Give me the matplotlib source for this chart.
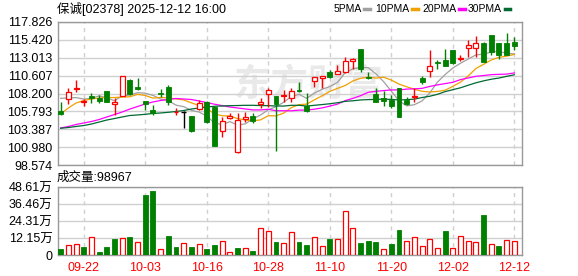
import numpy as np
import matplotlib
matplotlib.use("Agg")
import matplotlib.pyplot as plt
from matplotlib.lines import Line2D

plt.rcParams["font.family"] = ["Liberation Sans", "Noto Sans CJK SC"]

# trading days shown (HK), one per candle
dates = ["09-17", "09-18", "09-19", "09-22", "09-23", "09-24", "09-25", "09-26", "09-29", "09-30",
         "10-02", "10-03", "10-06", "10-08", "10-09", "10-10", "10-13", "10-14", "10-15", "10-16",
         "10-17", "10-20", "10-21", "10-22", "10-23", "10-24", "10-27", "10-28", "10-30", "10-31",
         "11-03", "11-04", "11-05", "11-06", "11-07", "11-10", "11-11", "11-12", "11-13", "11-14",
         "11-17", "11-18", "11-19", "11-20", "11-21", "11-24", "11-25", "11-26", "11-27", "11-28",
         "12-01", "12-02", "12-03", "12-04", "12-05", "12-08", "12-09", "12-10", "12-11", "12-12"]

opens = [105.80, 107.50, 108.80, 107.00, 107.90, 107.55, 108.54, 106.75, 107.90, 110.02,
         109.12, 107.19, 105.98, 108.23, 109.12, 105.65, 105.75, 105.17, 106.11, 107.10,
         106.38, 103.19, 104.90, 100.26, 104.83, 105.17, 106.85, 108.07, 107.86, 107.80,
         107.53, 108.63, 106.52, 109.92, 110.35, 111.09, 110.83, 111.09, 112.60, 114.15,
         110.42, 108.13, 107.59, 107.39, 108.94, 107.33, 107.69, 110.25, 111.27, 112.44,
         112.71, 114.06, 112.80, 114.28, 114.28, 115.04, 116.08, 115.00, 115.00, 115.17]
highs = [107.10, 109.00, 110.00, 107.45, 108.23, 108.00, 108.60, 107.63, 110.60, 110.10,
         110.24, 107.25, 106.70, 108.77, 109.34, 106.20, 105.90, 105.20, 107.33, 107.15,
         106.50, 104.99, 105.51, 105.62, 105.75, 105.58, 107.59, 108.94, 107.90, 108.67,
         108.90, 109.75, 108.23, 110.40, 110.56, 111.36, 112.04, 113.07, 112.95, 114.20,
         111.09, 108.90, 108.54, 108.00, 109.00, 107.77, 108.90, 110.49, 114.06, 112.71,
         114.19, 114.10, 113.38, 115.40, 115.90, 115.10, 116.10, 115.00, 116.38, 115.85]
lows = [105.30, 106.85, 108.40, 106.55, 106.96, 106.88, 107.00, 105.31, 107.85, 108.00,
        108.67, 105.98, 105.31, 107.77, 106.65, 105.31, 103.55, 103.00, 105.98, 104.20,
        101.10, 102.30, 104.77, 100.20, 104.36, 104.19, 106.25, 106.32, 100.50, 107.12,
        107.10, 108.44, 105.75, 109.08, 108.94, 110.29, 110.78, 111.00, 111.50, 111.09,
        110.15, 107.05, 106.45, 106.25, 105.00, 106.65, 107.10, 109.48, 110.46, 111.54,
        111.90, 112.20, 112.64, 113.15, 113.15, 112.40, 113.38, 112.78, 113.38, 114.06]
closes = [105.45, 108.40, 109.00, 107.25, 107.55, 107.19, 107.10, 107.02, 110.56, 108.09,
          108.76, 106.75, 105.57, 108.10, 107.00, 105.72, 105.75, 103.09, 106.96, 104.30,
          101.13, 104.50, 105.17, 104.63, 105.10, 104.56, 107.10, 108.67, 106.72, 108.04,
          108.54, 108.50, 105.88, 110.38, 110.49, 110.45, 111.23, 112.51, 112.91, 111.46,
          110.29, 107.10, 107.22, 106.48, 105.08, 106.79, 107.86, 109.79, 111.90, 112.26,
          111.94, 112.27, 112.98, 114.73, 115.04, 112.48, 113.72, 113.38, 113.45, 114.62]

# volume in 万 shares
volumes = [4.27, 6.9, 7.8, 5.7, 12.6, 2.1, 5.7, 11.4, 11.9, 12.8,
           9.0, 42.7, 45.5, 4.0, 13.5, 5.7, 8.5, 5.7, 7.8, 4.3,
           7.1, 9.7, 2.1, 5.0, 5.0, 2.8, 19.0, 17.1, 9.5, 8.5,
           16.1, 9.3, 7.1, 12.6, 6.2, 11.4, 11.1, 31.8, 19.0, 8.5,
           10.0, 9.3, 4.0, 7.8, 17.8, 9.7, 12.6, 6.2, 11.1, 4.7,
           17.1, 4.7, 13.3, 9.7, 9.0, 28.5, 7.6, 6.4, 10.5, 9.8967]

ma5 = [107.55, 107.60, 107.65, 107.45, 107.53, 107.88, 107.62, 107.22, 107.88, 107.99,
       108.31, 108.24, 107.95, 107.45, 107.24, 106.63, 106.43, 105.93, 105.70, 105.16,
       104.25, 104.00, 104.41, 103.95, 104.11, 104.79, 105.31, 106.01, 106.43, 107.02,
       107.81, 108.09, 107.54, 108.27, 108.76, 109.14, 109.69, 111.01, 111.52, 111.71,
       111.68, 110.85, 109.80, 108.51, 107.23, 106.53, 106.69, 107.20, 108.28, 109.72,
       110.75, 111.63, 112.27, 112.84, 113.39, 113.50, 113.79, 113.87, 113.61, 113.53]
ma10 = [105.44, 106.25, 106.92, 107.26, 107.46, 107.59, 107.66, 107.66, 107.72, 107.76,
        108.09, 107.93, 107.58, 107.67, 107.61, 107.47, 107.33, 106.94, 106.58, 106.20,
        105.44, 105.21, 105.17, 104.83, 104.64, 104.52, 104.65, 105.21, 105.19, 105.56,
        106.30, 106.70, 106.77, 107.35, 107.89, 108.48, 108.89, 109.27, 109.89, 110.24,
        110.41, 110.27, 110.40, 110.01, 109.47, 109.11, 108.77, 108.50, 108.40, 108.48,
        108.64, 109.16, 109.73, 110.56, 111.56, 112.13, 112.71, 113.07, 113.22, 113.46]
ma20 = [103.56, 103.76, 104.03, 104.23, 104.43, 104.70, 105.04, 105.37, 105.71, 106.11,
        106.45, 106.79, 107.06, 107.26, 107.39, 107.53, 107.46, 107.39, 107.19, 106.98,
        106.76, 106.57, 106.38, 106.25, 106.12, 105.99, 105.99, 106.08, 105.88, 105.88,
        105.87, 105.96, 105.97, 106.09, 106.26, 106.50, 106.77, 107.24, 107.54, 107.90,
        108.36, 108.49, 108.59, 108.68, 108.68, 108.79, 108.83, 108.89, 109.15, 109.36,
        109.53, 109.71, 110.07, 110.29, 110.51, 110.62, 110.74, 110.78, 110.81, 110.97]
ma30 = [103.52, 103.62, 103.76, 103.89, 104.09, 104.36, 104.63, 104.83, 105.04, 105.24,
        105.31, 105.40, 105.51, 105.58, 105.67, 105.78, 105.91, 106.11, 106.25, 106.38,
        106.48, 106.52, 106.56, 106.58, 106.61, 106.61, 106.58, 106.56, 106.52, 106.51,
        106.61, 106.61, 106.51, 106.61, 106.71, 106.82, 106.96, 107.14, 107.22, 107.33,
        107.38, 107.40, 107.45, 107.40, 107.33, 107.37, 107.44, 107.66, 107.83, 108.09,
        108.45, 108.71, 108.97, 109.31, 109.64, 109.90, 110.12, 110.28, 110.51, 110.72]

price_labels = ["98.574", "100.980", "103.387", "105.793", "108.200",
                "110.607", "113.013", "115.420", "117.826"]
vol_labels = ["0", "12.15万", "24.31万", "36.46万", "48.61万"]
ma_names = ["5PMA", "10PMA", "20PMA", "30PMA"]
title = "保诚[02378] 2025-12-12 16:00"

RED, GREEN = "#ff0000", "#008000"
MA_COLORS = ["#a0a0a0", "#f0a000", "#ff00ff", "#006a32"]
GRID = "#d0d0d0"

o = np.array(opens); h = np.array(highs); l = np.array(lows); c = np.array(closes)
v = np.array(volumes)
x = np.arange(len(c))
W, H = 578, 276


def box(left, top, right, bottom):
    return [left / W, 1 - bottom / H, (right - left) / W, (bottom - top) / H]


fig = plt.figure(figsize=(W / 100, H / 100), dpi=100)
ax = fig.add_axes(box(58, 22, 522, 165))
axv = fig.add_axes(box(58, 187, 522, 255))

tick_idx = list(range(3, len(x), 8))
for a in (ax, axv):
    a.set_xlim(-0.35, 60.0)
    a.set_xticks(tick_idx)
    a.grid(axis="y", color=GRID, lw=1.0)
    a.grid(axis="x", color=GRID, lw=1.0, ls=(0, (3, 3)))
    a.set_axisbelow(True)
    for s in a.spines.values():
        s.set_color("#999999")
        s.set_linewidth(1.0)
    a.tick_params(length=0, labelsize=9, pad=4)

# watermark
ax.text(0.54, 0.55, "东方财富", transform=ax.transAxes, fontsize=27, color="#e9e9e9",
        ha="center", va="center", fontweight="bold", style="italic", zorder=0)

# price panel
ptick = [float(s) for s in price_labels]
ax.set_ylim(ptick[0], ptick[-1])
ax.set_yticks(ptick)
ax.set_yticklabels(price_labels)
ax.set_xticklabels([])

for ma, col in zip([ma5, ma10, ma20, ma30], MA_COLORS):
    ax.plot(x, ma, color=col, lw=0.9, zorder=2)

bw = 0.64
up = c > o
dn = c < o
fl = c == o
top = np.maximum(o, c)
bot = np.minimum(o, c)
ax.vlines(x[up], top[up], h[up], color=RED, lw=1.0, zorder=3)
ax.vlines(x[up], l[up], bot[up], color=RED, lw=1.0, zorder=3)
ax.bar(x[up], (c - o)[up], bottom=o[up], width=bw, facecolor="white",
       edgecolor=RED, lw=0.9, zorder=4)
ax.vlines(x[dn], l[dn], h[dn], color=GREEN, lw=1.0, zorder=3)
ax.bar(x[dn], (o - c)[dn], bottom=c[dn], width=bw, facecolor=GREEN,
       edgecolor=GREEN, lw=0.6, zorder=4)
ax.vlines(x[fl], l[fl], h[fl], color="black", lw=1.0, zorder=3)
ax.hlines(c[fl], x[fl] - bw / 2, x[fl] + bw / 2, color="black", lw=1.0, zorder=4)

# volume panel, coloured by change against previous close
vup = np.r_[False, c[1:] >= c[:-1]]
vtick = [0.0] + [float(s[:-1]) for s in vol_labels[1:]]
axv.set_ylim(0, vtick[-1])
axv.set_yticks(vtick)
axv.set_yticklabels(vol_labels)
axv.bar(x[vup], v[vup], width=bw, facecolor="white", edgecolor=RED, lw=0.9, zorder=3)
axv.bar(x[~vup], v[~vup], width=bw, facecolor=GREEN, edgecolor=GREEN, lw=0.6, zorder=3)
axv.set_xticklabels([dates[i] for i in tick_idx], color=RED)
axv.tick_params(axis="x", pad=5)

# header texts
fig.text(57 / W, 1 - 9 / H, title, fontsize=9, va="center", ha="left")
fig.text(57 / W, 1 - 177.5 / H, f"成交量:{volumes[-1] * 1e4:.0f}", fontsize=9,
         va="center", ha="left")

# legend: name then a short coloured dash, right-aligned to each dash
dash_x = [364.5, 412.0, 459.0, 504.5]
for name, col, dx in zip(ma_names, MA_COLORS, dash_x):
    fig.text((dx - 2.5) / W, 1 - 9 / H, name, fontsize=7.5, va="center", ha="right")
    fig.add_artist(Line2D([dx / W, (dx + 5.5) / W], [1 - 9 / H, 1 - 9 / H],
                          color=col, lw=2.5, transform=fig.transFigure))

fig.savefig("out.png", dpi=100)
